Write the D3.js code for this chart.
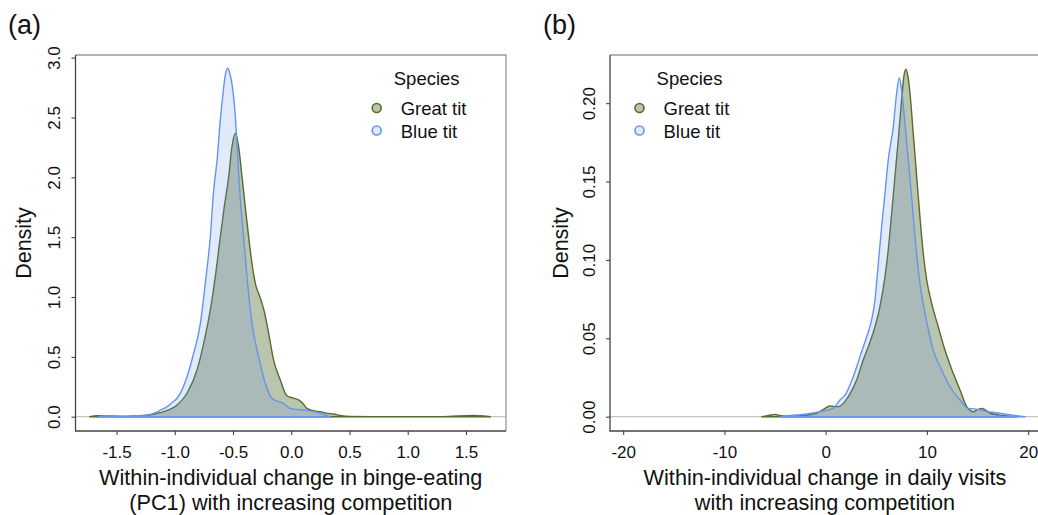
<!DOCTYPE html>
<html>
<head>
<meta charset="utf-8">
<script src="https://cdn.jsdelivr.net/npm/d3@7"></script>
<style>
  html, body { margin: 0; padding: 0; background: #fff; }
  svg { display: block; font-family: "Liberation Sans", Arial, sans-serif; }
</style>
</head>
<body>
<svg id="chart" width="1038" height="515"></svg>
<script>
// ---- Kernel density estimates: [value, density] ----
// (a) within-individual change in binge-eating (PC1)
const pc1GreatTit = [
  [-1.73, 0], [-1.67, 0.008], [-1.55, 0.004], [-1.40, 0.003], [-1.30, 0.006],
  [-1.21, 0.016], [-1.095, 0.042], [-0.98, 0.098], [-0.895, 0.196], [-0.809, 0.39],
  [-0.752, 0.613], [-0.695, 0.892], [-0.652, 1.17], [-0.609, 1.504], [-0.575, 1.755],
  [-0.537, 2.006], [-0.509, 2.256], [-0.48, 2.368], [-0.452, 2.256], [-0.423, 2.006],
  [-0.395, 1.755], [-0.366, 1.504], [-0.337, 1.28], [-0.305, 1.10], [-0.28, 1.03],
  [-0.237, 0.90], [-0.194, 0.697], [-0.152, 0.474], [-0.094, 0.307], [-0.037, 0.175],
  [0.02, 0.155], [0.063, 0.14], [0.10, 0.11], [0.135, 0.07], [0.20, 0.048],
  [0.249, 0.042], [0.30, 0.03], [0.363, 0.022], [0.43, 0.008], [0.50, 0.002],
  [0.80, 0.0005], [1.30, 0.001], [1.56, 0.01], [1.65, 0.006], [1.71, 0]
];
const pc1BlueTit = [
  [-1.66, 0], [-1.60, 0.006], [-1.55, 0.008], [-1.45, 0.004], [-1.35, 0.008],
  [-1.25, 0.012], [-1.18, 0.028], [-1.12, 0.056], [-1.066, 0.084], [-1.02, 0.12],
  [-0.98, 0.154], [-0.94, 0.22], [-0.895, 0.334], [-0.838, 0.53], [-0.78, 0.78],
  [-0.738, 1.115], [-0.695, 1.504], [-0.666, 1.894], [-0.637, 2.145], [-0.609, 2.48],
  [-0.586, 2.70], [-0.565, 2.86], [-0.546, 2.911], [-0.528, 2.87], [-0.509, 2.78],
  [-0.48, 2.507], [-0.46, 2.17], [-0.437, 1.81], [-0.409, 1.504], [-0.375, 1.115],
  [-0.337, 0.78], [-0.28, 0.50], [-0.223, 0.28], [-0.166, 0.154], [-0.123, 0.13],
  [-0.066, 0.112], [-0.01, 0.07], [0.05, 0.06], [0.105, 0.056], [0.18, 0.045],
  [0.25, 0.028], [0.30, 0.01], [0.335, 0]
];
// (b) within-individual change in daily visits
const visitsGreatTit = [
  [-6.3, 0], [-5.6, 0.0008], [-5.0, 0.0015], [-4.4, 0.0006], [-3.5, 0.0002],
  [-2.5, 0.0006], [-1.5, 0.0014], [-0.89, 0.0022], [-0.3, 0.0043], [0.43, 0.0068],
  [1.09, 0.0064], [1.41, 0.0068], [1.74, 0.0085], [2.24, 0.0128], [3.06, 0.0234],
  [3.71, 0.0362], [4.21, 0.0446], [4.87, 0.0574], [5.36, 0.0702], [5.86, 0.0893],
  [6.18, 0.1063], [6.52, 0.1297], [6.84, 0.153], [7.17, 0.1765], [7.5, 0.202],
  [7.75, 0.218], [7.93, 0.2217], [8.1, 0.218], [8.33, 0.2063], [8.65, 0.1807],
  [8.99, 0.153], [9.31, 0.1276], [9.64, 0.1042], [9.98, 0.0872], [10.47, 0.0723],
  [11.12, 0.0574], [11.78, 0.0425], [12.6, 0.0277], [13.27, 0.017], [13.93, 0.0064],
  [14.58, 0.0032], [15.0, 0.0045], [15.41, 0.0053], [15.8, 0.0042], [16.23, 0.0022],
  [17.2, 0.001], [18.2, 0.0003], [18.9, 0]
];
const visitsBlueTit = [
  [-4.5, 0], [-3.2, 0.001], [-2.5, 0.0012], [-1.55, 0.002], [-0.56, 0.0032],
  [0.2, 0.0042], [0.75, 0.0053], [1.41, 0.0106], [1.91, 0.0138], [2.73, 0.0255],
  [3.39, 0.0383], [4.05, 0.051], [4.54, 0.0617], [4.87, 0.0744], [5.2, 0.0978],
  [5.53, 0.1212], [5.86, 0.1425], [6.18, 0.1637], [6.68, 0.185], [7.01, 0.2063],
  [7.27, 0.2162], [7.5, 0.2083], [7.83, 0.1871], [8.16, 0.1637], [8.49, 0.1403],
  [8.82, 0.1148], [9.31, 0.0851], [9.81, 0.0659], [10.3, 0.051], [10.63, 0.0425],
  [11.46, 0.0298], [12.28, 0.0191], [13.27, 0.0106], [14.08, 0.0053], [14.6, 0.005],
  [15.24, 0.0043], [16.2, 0.003], [17.2, 0.0022], [18.86, 0.0006], [19.7, 0]
];

// ---- Ticks and labels ----
const pc1XTicks = [-1.5, -1.0, -0.5, 0.0, 0.5, 1.0, 1.5];
const pc1YTicks = [0.0, 0.5, 1.0, 1.5, 2.0, 2.5, 3.0];
const visitsXTicks = [-20, -10, 0, 10, 20];
const visitsYTicks = [0.00, 0.05, 0.10, 0.15, 0.20];
const speciesNames = ["Great tit", "Blue tit"];
const pc1Title = ["Within-individual change in binge-eating", "(PC1) with increasing competition"];
const visitsTitle = ["Within-individual change in daily visits", "with increasing competition"];

// ---- Styling ----
const speciesFill = ["rgba(85,107,47,0.40)", "rgba(100,149,237,0.20)"];
const speciesStroke = ["#556B2F", "#6495ED"];

const svg = d3.select("#chart");

function drawPanel(cfg) {
  const g = svg.append("g");
  const x = d3.scaleLinear().domain(cfg.xDomain).range([cfg.left, cfg.right]);
  const y = d3.scaleLinear().domain(cfg.yDomain).range([cfg.bottom, cfg.top]);

  // zero reference line
  g.append("line")
    .attr("x1", cfg.left).attr("x2", cfg.right)
    .attr("y1", y(0)).attr("y2", y(0))
    .attr("stroke", "#c4c4c4").attr("stroke-width", 1.2);

  // density polygons (great tit under blue tit)
  const line = d3.line().x(d => x(d[0])).y(d => y(d[1])).curve(d3.curveMonotoneX);
  cfg.series.forEach((s, i) => {
    g.append("path")
      .attr("d", line(s) + "Z")
      .attr("fill", speciesFill[i])
      .attr("stroke", speciesStroke[i])
      .attr("stroke-width", 1.4)
      .attr("stroke-linejoin", "round");
  });

  // frame: light top/right, dark bottom/left
  g.append("path")
    .attr("d", `M${cfg.left},${cfg.top}H${cfg.right}V${cfg.bottom}`)
    .attr("fill", "none").attr("stroke", "#999").attr("stroke-width", 1.3);
  g.append("path")
    .attr("d", `M${cfg.left},${cfg.top}V${cfg.bottom}H${cfg.right}`)
    .attr("fill", "none").attr("stroke", "#444").attr("stroke-width", 1.3);

  // x axis
  const xAxis = g.append("g")
    .attr("transform", `translate(0,${cfg.bottom})`)
    .call(d3.axisBottom(x).tickValues(cfg.xTicks).tickFormat(cfg.xFormat).tickSize(4).tickSizeOuter(0));
  xAxis.select(".domain").remove();
  xAxis.selectAll(".tick line").attr("stroke", "#444").attr("stroke-width", 1.1);
  xAxis.selectAll(".tick text")
    .attr("y", 26.5).attr("dy", 0)
    .attr("fill", "#111").style("font-size", "17px")
    .style("font-family", "'Liberation Sans', Arial, sans-serif");

  // y axis with labels rotated parallel to the axis
  const yAxis = g.append("g")
    .attr("transform", `translate(${cfg.left},0)`)
    .call(d3.axisLeft(y).tickValues(cfg.yTicks).tickFormat(cfg.yFormat).tickSize(4).tickSizeOuter(0));
  yAxis.select(".domain").remove();
  yAxis.selectAll(".tick line").attr("stroke", "#444").attr("stroke-width", 1.1);
  yAxis.selectAll(".tick text")
    .attr("transform", "rotate(-90)")
    .attr("x", 0).attr("y", -15.5).attr("dy", 0)
    .attr("text-anchor", "middle")
    .attr("fill", "#111").style("font-size", "17px")
    .style("font-family", "'Liberation Sans', Arial, sans-serif");

  // axis titles
  const cx = (cfg.left + cfg.right) / 2;
  cfg.xTitle.forEach((t, i) => {
    g.append("text")
      .attr("x", cx).attr("y", 485 + i * 25)
      .attr("text-anchor", "middle")
      .attr("fill", "#111").style("font-size", "21.7px")
      .text(t);
  });
  g.append("text")
    .attr("transform", `translate(${cfg.yTitleX},${(cfg.top + cfg.bottom) / 2}) rotate(-90)`)
    .attr("text-anchor", "middle")
    .attr("fill", "#111").style("font-size", "21.5px")
    .text("Density");

  // panel letter
  g.append("text")
    .attr("x", cfg.letterX).attr("y", 34)
    .attr("fill", "#111").style("font-size", "27px")
    .text(cfg.letter);

  // legend
  const lg = g.append("g");
  lg.append("text")
    .attr("x", cfg.legendX + 50).attr("y", 85)
    .attr("text-anchor", "middle")
    .attr("fill", "#111").style("font-size", "18.5px")
    .text("Species");
  speciesNames.forEach((name, i) => {
    const cy = 108 + i * 22.5;
    lg.append("circle")
      .attr("cx", cfg.legendX).attr("cy", cy).attr("r", 4.5)
      .attr("fill", speciesFill[i]).attr("stroke", speciesStroke[i]).attr("stroke-width", 1.6);
    lg.append("text")
      .attr("x", cfg.legendX + 24).attr("y", cy + 7)
      .attr("fill", "#111").style("font-size", "18.5px")
      .text(name);
  });
}

const oneDec = d => d.toFixed(1).replace("\u2212", "-");
const twoDec = d => d.toFixed(2).replace("\u2212", "-");
const intFmt = d => String(d);

drawPanel({
  left: 75.5, right: 506, top: 55, bottom: 431,
  xDomain: [-1.8525, 1.8439], yDomain: [-0.1195, 3.022],
  series: [pc1GreatTit, pc1BlueTit],
  xTicks: pc1XTicks, yTicks: pc1YTicks,
  xFormat: oneDec, yFormat: oneDec,
  xTitle: pc1Title, yTitleX: 30.5,
  letter: "(a)", letterX: 8,
  legendX: 376.7
});

drawPanel({
  left: 610, right: 1040, top: 55, bottom: 431,
  xDomain: [-21.30, 21.17], yDomain: [-0.00912, 0.2307],
  series: [visitsGreatTit, visitsBlueTit],
  xTicks: visitsXTicks, yTicks: visitsYTicks,
  xFormat: intFmt, yFormat: twoDec,
  xTitle: visitsTitle, yTitleX: 568,
  letter: "(b)", letterX: 543,
  legendX: 639.5
});
</script>
</body>
</html>
